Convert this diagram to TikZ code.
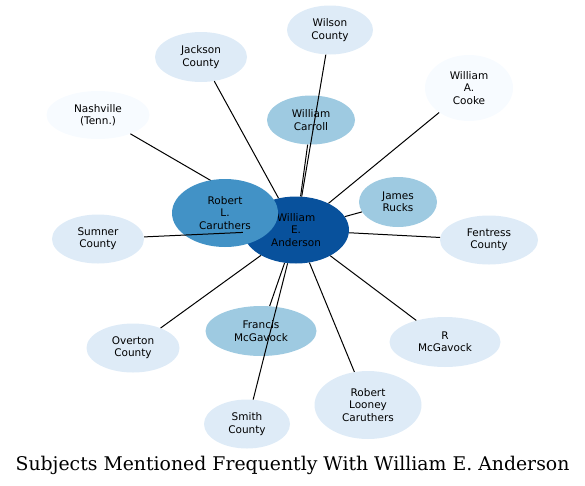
\documentclass[tikz,border=0pt]{standalone}
\usepackage{fontspec}
\setmainfont{DejaVu Sans}
\newfontfamily\titlefont{DejaVu Serif}
\usepackage{tikz}
\usetikzlibrary{shapes,positioning}
\usepackage{xcolor}
\definecolor{hub}{HTML}{08519C}
\definecolor{close}{HTML}{4292C6}
\definecolor{mid}{HTML}{9ECAE1}
\definecolor{light}{HTML}{DEEBF7}
\definecolor{faint}{HTML}{F7FBFF}

\begin{document}
\begin{tikzpicture}[x=1pt, y=-1pt,
  subj/.style={ellipse, fill=#1, draw=none, inner sep=0pt, align=center, text=black,
    font=\fontsize{10.5}{12.2}\selectfont},
  link/.style={line width=1pt, black}
]
  \useasboundingbox (0,0) rectangle (585,485);

  % outer subjects
  \node[subj=light, minimum width=86, minimum height=49] (wilson) at (330, 30) {Wilson\\County};
  \node[subj=light, minimum width=92, minimum height=50] (jackson) at (201, 57) {Jackson\\County};
  \node[subj=faint, minimum width=88, minimum height=66] (cooke) at (469, 88) {William\\A.\\Cooke};
  \node[subj=faint, minimum width=103, minimum height=48] (nashville) at (98, 115) {Nashville\\(Tenn.)};
  \node[subj=mid, minimum width=88, minimum height=49] (carroll) at (311, 120) {William\\Carroll};
  \node[subj=mid, minimum width=78, minimum height=50] (rucks) at (398, 202) {James\\Rucks};
  \node[subj=light, minimum width=92, minimum height=49] (sumner) at (98, 239) {Sumner\\County};
  \node[subj=light, minimum width=98, minimum height=49] (fentress) at (489, 240) {Fentress\\County};
  \node[subj=mid, minimum width=111, minimum height=50] (francis) at (261, 331) {Francis\\McGavock};
  \node[subj=light, minimum width=111, minimum height=50] (rmcg) at (445, 342) {R\\McGavock};
  \node[subj=light, minimum width=93, minimum height=49] (overton) at (133, 348) {Overton\\County};
  \node[subj=light, minimum width=107, minimum height=68] (looney) at (368, 405) {Robert\\Looney\\Caruthers};
  \node[subj=light, minimum width=86, minimum height=49] (smith) at (247, 424) {Smith\\County};

  % centre
  \node[subj=hub, minimum width=106, minimum height=67] (anderson) at (296, 230) {William\\E.\\Anderson};
  \draw[link] (nashville) -- (anderson);
  \node[subj=close, minimum width=106, minimum height=68] (caruthers) at (225, 213) {Robert\\L.\\Caruthers};

  % links to the hub
  \foreach \s in {wilson, jackson, cooke, carroll, rucks, sumner, fentress,
                  francis, rmcg, overton, looney, smith}
    \draw[link] (\s) -- (anderson);

  \node[font=\titlefont\fontsize{18.85}{22}\selectfont] (title) at (292.5, 465) {Subjects Mentioned Frequently With William E. Anderson};
\end{tikzpicture}
\end{document}
